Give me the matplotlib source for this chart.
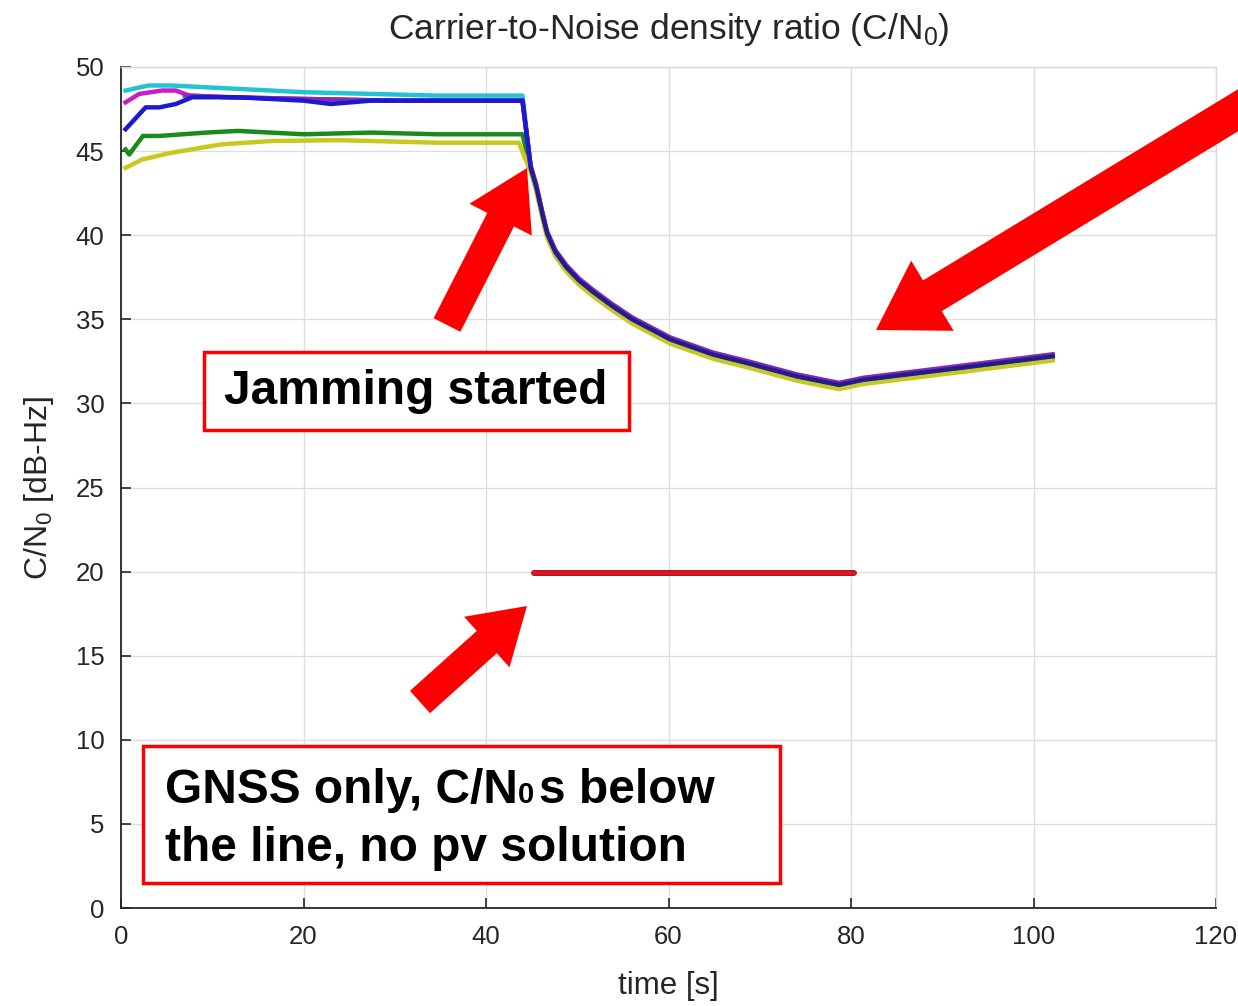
import matplotlib
matplotlib.use("Agg")
import matplotlib.pyplot as plt
from matplotlib.patches import FancyArrow, Rectangle
from matplotlib.transforms import Affine2D

plt.rcParams['font.family'] = ['Liberation Sans', 'DejaVu Sans']
plt.rcParams['mathtext.fontset'] = 'custom'
plt.rcParams['mathtext.rm'] = 'Liberation Sans'

# values
cyan_t = [0.5, 3, 5.5, 12.8, 20.1, 27.4, 34.7, 44.0]
cyan_v = [48.6, 48.9, 48.9, 48.7, 48.5, 48.4, 48.3, 48.3]
mag_t = [0.5, 2, 4.5, 6, 7.5, 12, 20, 30, 44.0]
mag_v = [47.9, 48.4, 48.6, 48.6, 48.3, 48.2, 48.1, 48.0, 48.0]
blue_t = [0.5, 2.7, 4.2, 6, 7.8, 12.8, 20, 23, 27.4, 35, 44.0]
blue_v = [46.3, 47.6, 47.6, 47.8, 48.2, 48.2, 48.0, 47.8, 48.0, 48.0, 48.0]
purple_t = [7, 12, 20, 30, 40, 44.0]
purple_v = [48.3, 48.2, 48.1, 48.0, 48.0, 48.0]
green_t = [0.5, 0.9, 2.4, 4.2, 9.3, 12.8, 20, 27.4, 34.7, 44.0]
green_v = [45.1, 44.8, 45.9, 45.9, 46.1, 46.2, 46.0, 46.1, 46.0, 46.0]
yellow_t = [0.5, 2.3, 5.5, 11, 16.5, 23.8, 34.7, 43.6]
yellow_v = [44.0, 44.5, 44.9, 45.4, 45.6, 45.65, 45.5, 45.5]

# common decay after jamming
decay_t = [44.9, 45.5, 46.2, 46.7, 47.6, 48.8, 50.2, 51.8, 53.8, 56.0, 60.2, 64.9, 68.6, 74.1, 78.7, 81.3, 91.8, 102.1]
decay_v = [44.0, 42.9, 41.2, 40.1, 39.0, 38.1, 37.3, 36.6, 35.8, 35.0, 33.8, 32.9, 32.4, 31.6, 31.1, 31.4, 32.1, 32.8]

thr_t = [45.3, 80.3]
thr_v = [19.9, 19.9]

fig = plt.figure(figsize=(12.38, 10.06), dpi=100)
W, H = 1238, 1006
ax = fig.add_axes([121 / W, (H - 908) / H, (1216 - 121) / W, (908 - 67) / H])

series = [
    (cyan_t, cyan_v, '#22c4d4', 0.0),
    (mag_t, mag_v, '#c81ec8', 0.05),
    (green_t, green_v, '#1a8a1a', -0.1),
    (yellow_t, yellow_v, '#c8c81e', -0.25),
    (purple_t, purple_v, '#8a2aa8', 0.12),
    (blue_t, blue_v, '#1a1ad0', 0.0),
]
for t, v, c, off in series:
    tt = list(t) + decay_t
    vv = list(v) + [d + off for d in decay_v]
    ax.plot(tt, vv, color=c, lw=3.2, solid_joinstyle='round')
# darker core visible along the decay
ax.plot(decay_t, decay_v, color='#2a2060', lw=1.6)

ax.plot(thr_t, thr_v, color='#8a1020', lw=4.2, solid_capstyle='round')
ax.plot(thr_t, thr_v, color='#f01018', lw=2.6)

ax.set_xlim(0, 120)
ax.set_ylim(0, 50)
ax.set_xticks(range(0, 121, 20))
ax.set_yticks(range(0, 51, 5))
ax.grid(True, color='#dedede', lw=1.0)
ax.set_axisbelow(True)
ax.tick_params(direction='in', length=7, width=1.2, labelsize=18.5, colors='#262626', pad=12)
for s in ['left', 'bottom']:
    ax.spines[s].set_color('#262626')
    ax.spines[s].set_linewidth(1.3)
for s in ['top', 'right']:
    ax.spines[s].set_color('#d8d8d8')
    ax.spines[s].set_linewidth(1.0)

ax.set_title(r'Carrier-to-Noise density ratio (C/N$_0$)', fontsize=25.5, color='#262626', pad=20)
ax.set_xlabel('time [s]', fontsize=22.5, color='#262626', labelpad=16)
ax.set_ylabel(r'C/N$_0$ [dB-Hz]', fontsize=23, color='#262626', labelpad=14)

# annotations in picture pixel coordinates (origin top-left)
px = Affine2D().scale(1, -1).translate(0, H)


def arrow(x0, y0, x1, y1, w, hw, hl):
    a = FancyArrow(x0, y0, x1 - x0, y1 - y0, width=w, head_width=hw, head_length=hl,
                   length_includes_head=True, color='#ff0000', ec='none', transform=px)
    fig.add_artist(a)


arrow(447, 325, 527, 168, 30, 70, 58)
arrow(1255, 100, 876, 330, 36, 82, 66)
arrow(420, 702, 527, 606, 30, 68, 54)

bold = dict(fontweight='bold', color='black')

fig.add_artist(Rectangle((204, 352), 425, 78, fill=True, fc='white', ec='#ff0000', lw=2.5, transform=px))
fig.text(416 / W, 1 - 392 / H, 'Jamming started', fontsize=34.5, ha='center', va='center', **bold)

fig.add_artist(Rectangle((143, 746), 637, 137, fill=True, fc='white', ec='#ff0000', lw=2.5, transform=px))
# first line with a small zero after C/N
y1 = 1 - 803 / H
t1 = fig.text(165 / W, y1, 'GNSS only, C/N', fontsize=34.5, ha='left', va='baseline', **bold)
r = fig.canvas.get_renderer()
x = t1.get_window_extent(r).x1 / W
t2 = fig.text(x, y1, '0', fontsize=21, ha='left', va='baseline', **bold)
x = t2.get_window_extent(r).x1 / W
fig.text(x + 5 / W, y1, 's below', fontsize=34.5, ha='left', va='baseline', **bold)
fig.text(165 / W, 1 - 861 / H, 'the line, no pv solution', fontsize=34.5, ha='left', va='baseline', **bold)

fig.savefig('out.png', dpi=100)
